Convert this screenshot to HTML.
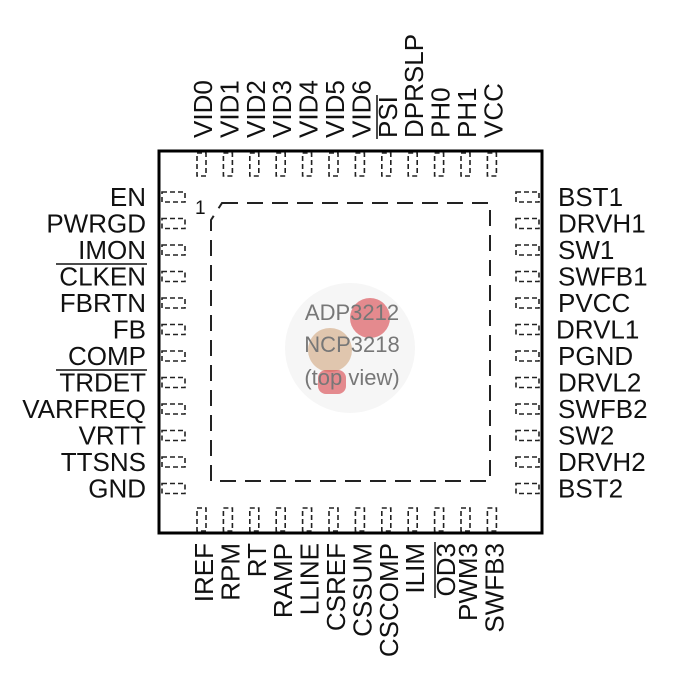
<!DOCTYPE html>
<html><head><meta charset="utf-8"><style>
html,body{margin:0;padding:0;background:#fff;}
svg{display:block;}
text{font-family:"Liberation Sans",Arial,sans-serif;fill:#111;}
</style></head><body>
<svg width="700" height="700" viewBox="0 0 700 700" xmlns="http://www.w3.org/2000/svg">
<rect x="159" y="151" width="383" height="382" fill="none" stroke="#000" stroke-width="3"/>
<path d="M222 203 L490 203 L490 481 L211 481 L211 220 Z" fill="none" stroke="#222" stroke-width="2" stroke-dasharray="16,9"/>
<text x="195" y="214" font-size="19">1</text>
<g fill="none" stroke="#222" stroke-width="1.6" stroke-dasharray="5,3">
<rect x="197" y="153" width="9" height="23"/><rect x="223.4" y="153" width="9" height="23"/><rect x="249.8" y="153" width="9" height="23"/><rect x="276.2" y="153" width="9" height="23"/><rect x="302.6" y="153" width="9" height="23"/><rect x="329" y="153" width="9" height="23"/><rect x="355.4" y="153" width="9" height="23"/><rect x="381.8" y="153" width="9" height="23"/><rect x="408.2" y="153" width="9" height="23"/><rect x="434.6" y="153" width="9" height="23"/><rect x="461" y="153" width="9" height="23"/><rect x="487.4" y="153" width="9" height="23"/>
<rect x="197" y="508" width="9" height="23"/><rect x="223.4" y="508" width="9" height="23"/><rect x="249.8" y="508" width="9" height="23"/><rect x="276.2" y="508" width="9" height="23"/><rect x="302.6" y="508" width="9" height="23"/><rect x="329" y="508" width="9" height="23"/><rect x="355.4" y="508" width="9" height="23"/><rect x="381.8" y="508" width="9" height="23"/><rect x="408.2" y="508" width="9" height="23"/><rect x="434.6" y="508" width="9" height="23"/><rect x="461" y="508" width="9" height="23"/><rect x="487.4" y="508" width="9" height="23"/>
<rect x="162" y="192" width="23" height="10"/><rect x="162" y="218.5" width="23" height="10"/><rect x="162" y="245" width="23" height="10"/><rect x="162" y="271.5" width="23" height="10"/><rect x="162" y="298" width="23" height="10"/><rect x="162" y="324.5" width="23" height="10"/><rect x="162" y="351" width="23" height="10"/><rect x="162" y="377.5" width="23" height="10"/><rect x="162" y="404" width="23" height="10"/><rect x="162" y="430.5" width="23" height="10"/><rect x="162" y="457" width="23" height="10"/><rect x="162" y="483.5" width="23" height="10"/>
<rect x="516" y="192" width="23" height="10"/><rect x="516" y="218.5" width="23" height="10"/><rect x="516" y="245" width="23" height="10"/><rect x="516" y="271.5" width="23" height="10"/><rect x="516" y="298" width="23" height="10"/><rect x="516" y="324.5" width="23" height="10"/><rect x="516" y="351" width="23" height="10"/><rect x="516" y="377.5" width="23" height="10"/><rect x="516" y="404" width="23" height="10"/><rect x="516" y="430.5" width="23" height="10"/><rect x="516" y="457" width="23" height="10"/><rect x="516" y="483.5" width="23" height="10"/>
</g>
<g font-size="26" text-anchor="end">
<text x="146" y="206">EN</text>
<text x="146" y="232.5">PWRGD</text>
<text x="146" y="259">IMON</text>
<text x="146" y="285.5">CLKEN</text>
<text x="146" y="312">FBRTN</text>
<text x="146" y="338.5">FB</text>
<text x="146" y="365">COMP</text>
<text x="146" y="391.5">TRDET</text>
<text x="146" y="418">VARFREQ</text>
<text x="146" y="444.5">VRTT</text>
<text x="146" y="471">TTSNS</text>
<text x="146" y="497.5">GND</text>
</g>
<line x1="56" y1="264" x2="147" y2="264" stroke="#111" stroke-width="1.5"/>
<line x1="56" y1="370" x2="147" y2="370" stroke="#111" stroke-width="1.5"/>
<g font-size="26">
<text x="558" y="206">BST1</text>
<text x="558" y="232.5">DRVH1</text>
<text x="558" y="259">SW1</text>
<text x="558" y="285.5">SWFB1</text>
<text x="558" y="312">PVCC</text>
<text x="556" y="338.5">DRVL1</text>
<text x="558" y="365">PGND</text>
<text x="558" y="391.5">DRVL2</text>
<text x="558" y="418">SWFB2</text>
<text x="558" y="444.5">SW2</text>
<text x="558" y="471">DRVH2</text>
<text x="558" y="497.5">BST2</text>
</g>
<g font-size="26">
<text transform="translate(212,138) rotate(-90)">VID0</text>
<text transform="translate(238.4,138) rotate(-90)">VID1</text>
<text transform="translate(264.8,138) rotate(-90)">VID2</text>
<text transform="translate(291.2,138) rotate(-90)">VID3</text>
<text transform="translate(317.6,138) rotate(-90)">VID4</text>
<text transform="translate(344,138) rotate(-90)">VID5</text>
<text transform="translate(370.4,138) rotate(-90)">VID6</text>
<text transform="translate(396.8,138) rotate(-90)">PSI</text>
<text transform="translate(423.2,138) rotate(-90)">DPRSLP</text>
<text transform="translate(449.6,138) rotate(-90)">PH0</text>
<text transform="translate(476,138) rotate(-90)">PH1</text>
<text transform="translate(502.4,138) rotate(-90)">VCC</text>
</g>
<line x1="377" y1="95" x2="377" y2="139" stroke="#111" stroke-width="1.5"/>
<g font-size="26" text-anchor="end">
<text transform="translate(213,543) rotate(-90)">IREF</text>
<text transform="translate(239.4,543) rotate(-90)">RPM</text>
<text transform="translate(265.8,543) rotate(-90)">RT</text>
<text transform="translate(292.2,543) rotate(-90)">RAMP</text>
<text transform="translate(318.6,543) rotate(-90)">LLINE</text>
<text transform="translate(345,543) rotate(-90)">CSREF</text>
<text transform="translate(371.4,543) rotate(-90)">CSSUM</text>
<text transform="translate(397.8,543) rotate(-90)">CSCOMP</text>
<text transform="translate(424.2,543) rotate(-90)">ILIM</text>
<text transform="translate(455,543) rotate(-90)">OD3</text>
<text transform="translate(477,543) rotate(-90)">PWM3</text>
<text transform="translate(503.4,543) rotate(-90)">SWFB3</text>
</g>
<line x1="435" y1="542" x2="435" y2="598" stroke="#111" stroke-width="1.5"/>
<circle cx="350" cy="348" r="65" fill="#f6f6f6"/>
<circle cx="370" cy="318" r="20" fill="#d9434a" opacity="0.6"/>
<circle cx="330" cy="350" r="22" fill="#d2a77e" opacity="0.6"/>
<rect x="318" y="370" width="28" height="24" rx="8" fill="#d9434a" opacity="0.6"/>
<g font-size="22" text-anchor="middle">
<text x="352" y="320" style="fill:#777">ADP3212</text>
<text x="352" y="352" style="fill:#777">NCP3218</text>
<text x="352" y="385" style="fill:#777">(top view)</text>
</g>
</svg>
</body></html>
